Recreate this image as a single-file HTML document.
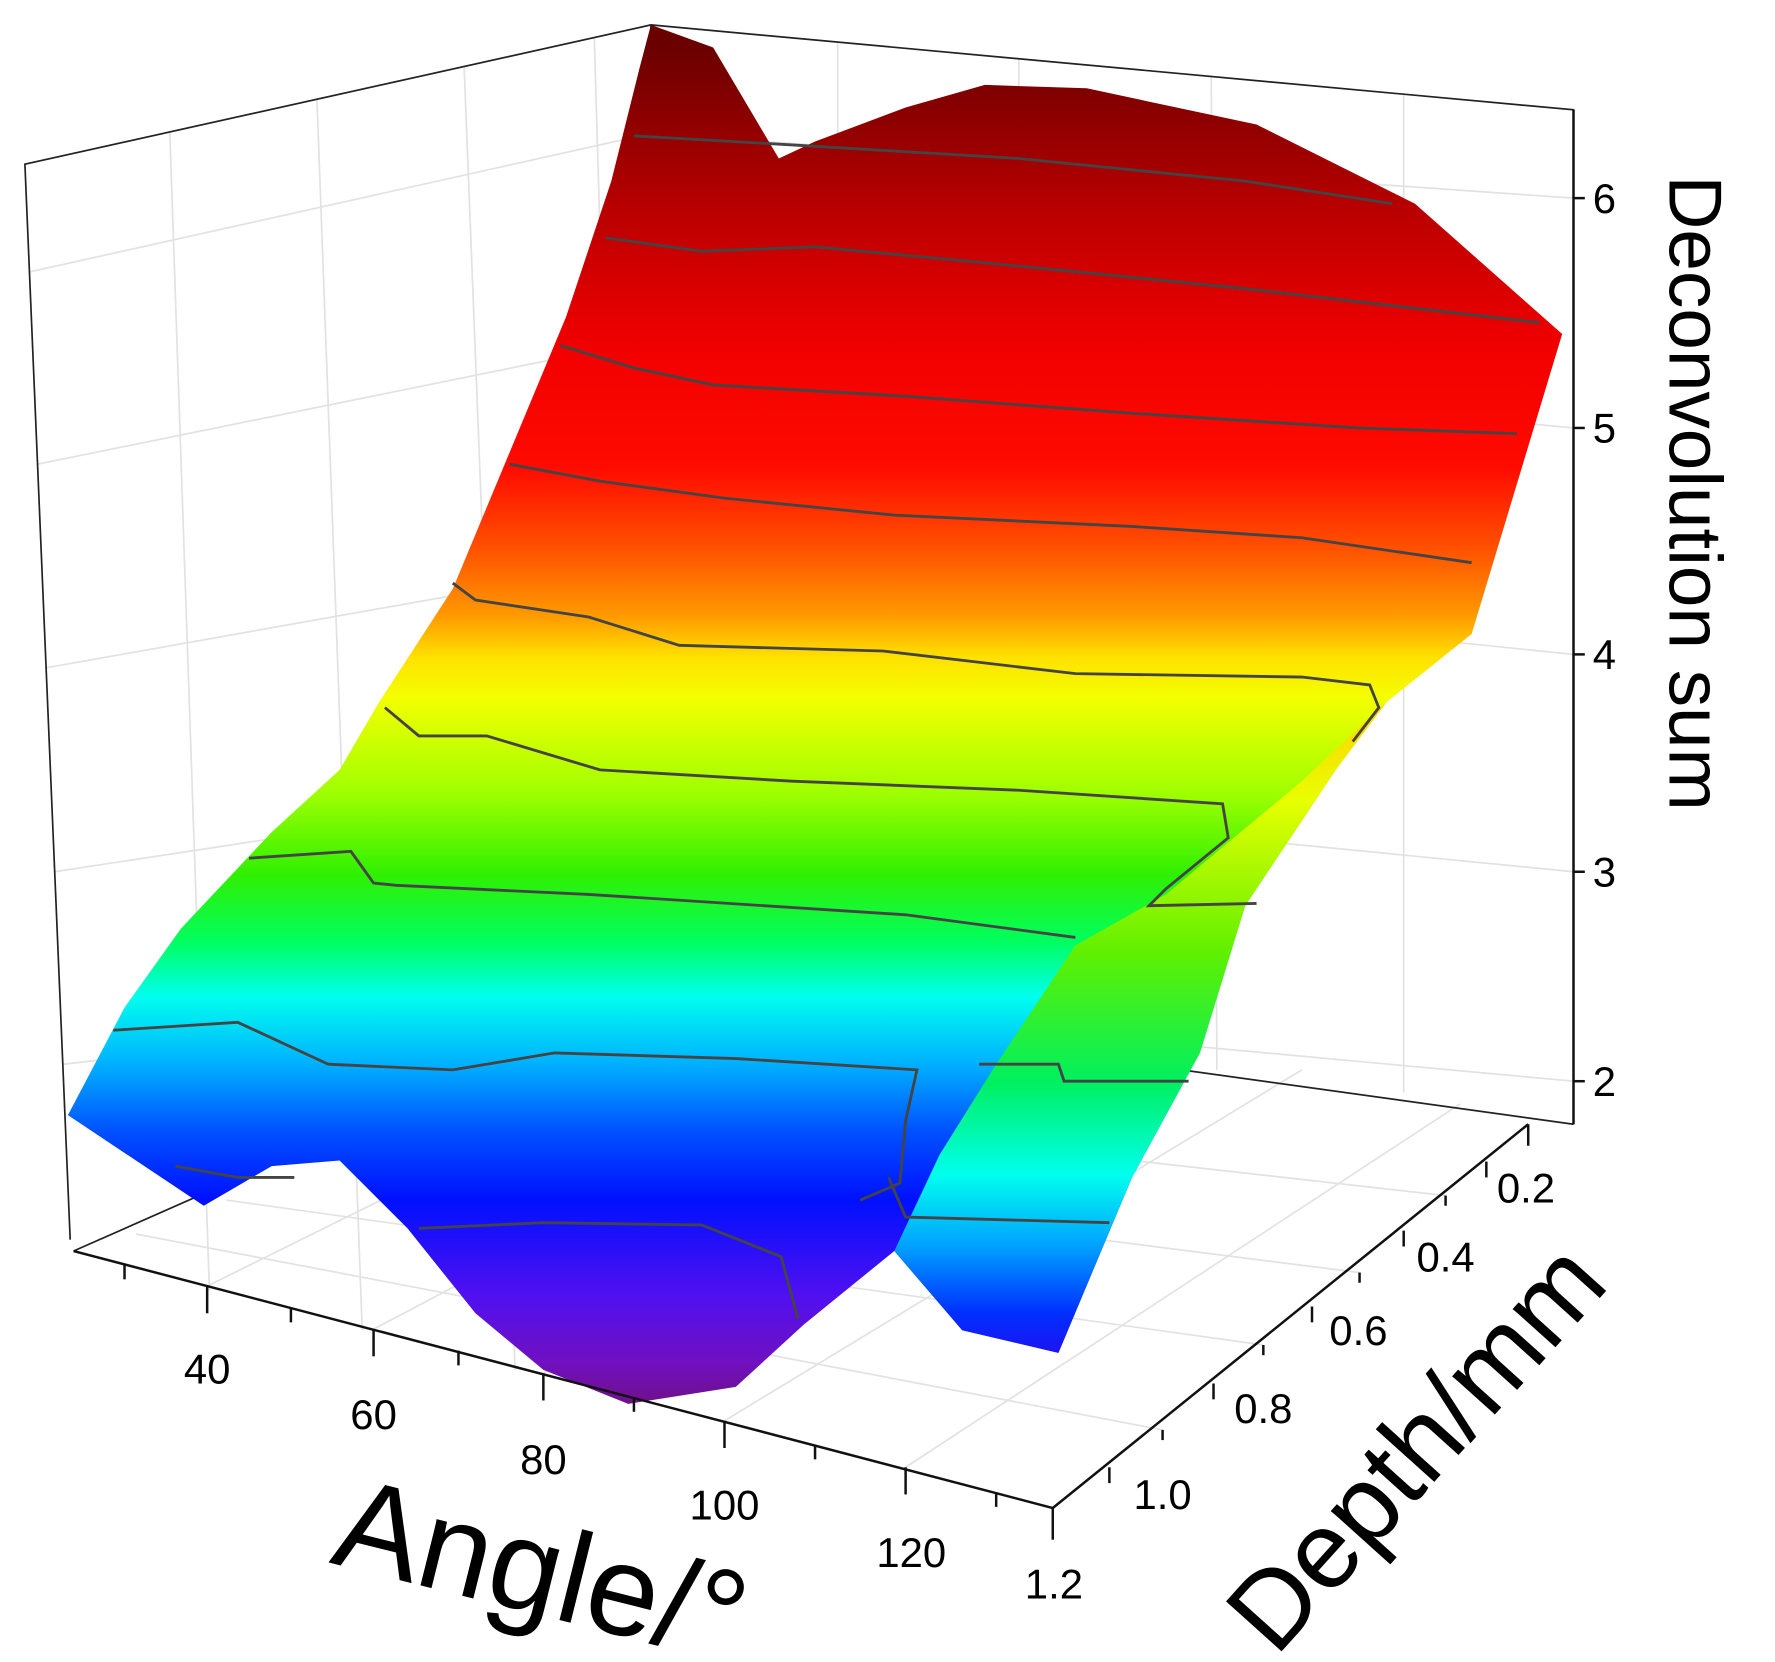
<!DOCTYPE html>
<html><head><meta charset="utf-8"><style>
html,body{margin:0;padding:0;background:#fff;}
svg{display:block;}
text{font-family:"Liberation Sans",Arial,sans-serif;fill:#000;}
</style></head><body>
<svg width="1775" height="1662" viewBox="0 0 1568 1468" preserveAspectRatio="none" xmlns="http://www.w3.org/2000/svg">
<defs>
<linearGradient id="gm" gradientUnits="userSpaceOnUse" x1="0" y1="40" x2="0" y2="1240">
<stop offset="0" stop-color="#6a0000"/>
<stop offset="0.12" stop-color="#b80000"/>
<stop offset="0.22" stop-color="#f00000"/>
<stop offset="0.31" stop-color="#ff0a00"/>
<stop offset="0.37" stop-color="#ff5000"/>
<stop offset="0.42" stop-color="#ff9a00"/>
<stop offset="0.45" stop-color="#ffe000"/>
<stop offset="0.48" stop-color="#f4ff00"/>
<stop offset="0.55" stop-color="#a0ff00"/>
<stop offset="0.61" stop-color="#30f000"/>
<stop offset="0.66" stop-color="#00ff60"/>
<stop offset="0.70" stop-color="#00ffee"/>
<stop offset="0.75" stop-color="#00b0ff"/>
<stop offset="0.80" stop-color="#0050ff"/>
<stop offset="0.85" stop-color="#0010ff"/>
<stop offset="0.92" stop-color="#5010f0"/>
<stop offset="0.97" stop-color="#7010c0"/>
<stop offset="1" stop-color="#70108a"/>
</linearGradient>
<linearGradient id="gl" gradientUnits="userSpaceOnUse" x1="0" y1="620" x2="0" y2="1200">
<stop offset="0" stop-color="#ffd000"/>
<stop offset="0.15" stop-color="#e8ff00"/>
<stop offset="0.38" stop-color="#60f000"/>
<stop offset="0.58" stop-color="#00f060"/>
<stop offset="0.72" stop-color="#00ffee"/>
<stop offset="0.83" stop-color="#00a0ff"/>
<stop offset="0.93" stop-color="#0030ff"/>
<stop offset="1" stop-color="#2010f0"/>
</linearGradient>
</defs>
<g stroke="#e2e2e2" stroke-width="1.5" fill="none">
<line x1="150" y1="117" x2="185" y2="1140"/><line x1="280" y1="88" x2="320" y2="1175"/><line x1="410" y1="59" x2="455" y2="1210"/><line x1="525" y1="33" x2="560" y2="1240"/>
<line x1="27" y1="240" x2="575" y2="118"/><line x1="33" y1="410" x2="575" y2="300"/><line x1="40" y1="590" x2="575" y2="495"/><line x1="48" y1="770" x2="575" y2="690"/><line x1="56" y1="940" x2="575" y2="880"/>
<line x1="740" y1="37" x2="740" y2="900"/><line x1="900" y1="52" x2="900" y2="920"/><line x1="1070" y1="68" x2="1075" y2="945"/><line x1="1240" y1="83" x2="1240" y2="965"/>
<line x1="575" y1="118" x2="1390" y2="175"/><line x1="575" y1="300" x2="1390" y2="378"/><line x1="575" y1="495" x2="1390" y2="578"/><line x1="575" y1="690" x2="1390" y2="770"/><line x1="575" y1="880" x2="1390" y2="955"/>
<line x1="183" y1="1136" x2="700" y2="880"/><line x1="330" y1="1174" x2="850" y2="900"/><line x1="480" y1="1213" x2="1000" y2="920"/><line x1="640" y1="1255" x2="1150" y2="945"/><line x1="800" y1="1296" x2="1290" y2="975"/>
<line x1="1277" y1="1056" x2="420" y2="960"/><line x1="1201" y1="1124" x2="300" y2="1010"/><line x1="1116" y1="1188" x2="200" y2="1060"/><line x1="1027" y1="1263" x2="120" y2="1090"/>
</g>
<g stroke="#222" stroke-width="1.5" fill="none">
<polyline points="62,1095 22,145 575,22 1390,97 1390,993"/>
<line x1="575" y1="22" x2="575" y2="880"/>
<line x1="1390" y1="993" x2="575" y2="880"/>
<line x1="65" y1="1105" x2="575" y2="880"/>
</g>
<polygon fill="url(#gm)" points="575,22 630,42 688,140 720,125 800,95 870,75 960,78 1110,110 1250,180 1380,295 1300,560 1225,620 1180,680 1100,800 1060,930 1000,1040 935,1195 850,1175 790,1105 710,1170 650,1225 555,1240 480,1210 420,1160 360,1085 300,1025 240,1030 180,1065 60,985 110,890 160,820 240,735 300,680 335,620 400,520 450,400 500,280 540,160 565,60"/>
<polygon fill="url(#gl)" points="1225,620 1180,680 1100,800 1060,930 1000,1040 935,1195 850,1175 790,1105 830,1020 880,940 950,835 1030,790 1090,740 1150,690"/>
<g stroke="#444" stroke-width="2.5" fill="none">
<polyline points="560,120 700,128 900,140 1100,160 1230,180"/>
<polyline points="535,210 620,222 720,218 900,235 1100,255 1360,285"/>
<polyline points="495,305 560,325 630,340 800,350 1000,365 1200,378 1340,383"/>
<polyline points="450,410 530,425 640,440 790,455 1000,465 1150,475 1300,497"/>
<polyline points="400,515 420,530 520,545 600,570 780,575 950,595 1150,598 1210,605 1218,625 1195,655"/>
<polyline points="340,625 370,650 430,650 530,680 700,690 900,698 1080,710 1085,740 1030,785 1015,800 1110,798"/>
<polyline points="220,758 310,752 330,780 350,782 520,790 800,808 950,828"/>
<polyline points="100,910 210,903 290,940 400,945 490,930 650,935 810,945 800,990 795,1045 760,1060"/>
<polyline points="865,940 935,940 940,955 1050,955"/>
<polyline points="785,1040 800,1075 980,1080"/>
<polyline points="155,1030 210,1040 260,1040"/>
<polyline points="370,1085 480,1080 620,1082 690,1110 705,1165"/>
</g>
<g stroke="#111" stroke-width="2.2" fill="none">
<line x1="65" y1="1105" x2="930" y2="1332"/>
<line x1="930" y1="1332" x2="1350" y2="993"/>
<line x1="930" y1="1332" x2="930" y2="1360"/>
<line x1="1350" y1="993" x2="1350" y2="1012"/>
<line x1="1390" y1="97" x2="1390" y2="993"/>
<line x1="1390" y1="175" x2="1400" y2="175"/><line x1="1390" y1="378" x2="1400" y2="378"/><line x1="1390" y1="578" x2="1400" y2="578"/><line x1="1390" y1="770" x2="1400" y2="770"/><line x1="1390" y1="955" x2="1400" y2="955"/>
<line x1="183" y1="1136" x2="183" y2="1160"/><line x1="330" y1="1174" x2="330" y2="1198"/><line x1="480" y1="1213" x2="480" y2="1237"/><line x1="640" y1="1255" x2="640" y2="1279"/><line x1="800" y1="1296" x2="800" y2="1320"/>
<line x1="110" y1="1117" x2="110" y2="1130"/><line x1="257" y1="1155" x2="257" y2="1168"/><line x1="405" y1="1193" x2="405" y2="1206"/><line x1="560" y1="1234" x2="560" y2="1247"/><line x1="720" y1="1276" x2="720" y2="1289"/><line x1="880" y1="1318" x2="880" y2="1331"/>
<line x1="1313" y1="1026" x2="1313" y2="1040"/><line x1="1240" y1="1087" x2="1240" y2="1101"/><line x1="1159" y1="1154" x2="1159" y2="1168"/><line x1="1072" y1="1222" x2="1072" y2="1236"/><line x1="980" y1="1296" x2="980" y2="1310"/>
<line x1="1277" y1="1056" x2="1277" y2="1065"/><line x1="1201" y1="1124" x2="1201" y2="1133"/><line x1="1116" y1="1188" x2="1116" y2="1197"/><line x1="1027" y1="1263" x2="1027" y2="1272"/>
</g>
<g font-size="37">
<text x="1407" y="188">6</text><text x="1407" y="391">5</text><text x="1407" y="591">4</text><text x="1407" y="783">3</text><text x="1407" y="968">2</text>
<text x="183" y="1222" text-anchor="middle">40</text><text x="330" y="1262" text-anchor="middle">60</text><text x="480" y="1302" text-anchor="middle">80</text><text x="640" y="1342" text-anchor="middle">100</text><text x="805" y="1384" text-anchor="middle">120</text>
<text x="1348" y="1062" text-anchor="middle">0.2</text><text x="1277" y="1123" text-anchor="middle">0.4</text><text x="1200" y="1188" text-anchor="middle">0.6</text><text x="1116" y="1257" text-anchor="middle">0.8</text><text x="1027" y="1333" text-anchor="middle">1.0</text><text x="931" y="1412" text-anchor="middle">1.2</text>
</g>
<text font-size="66" transform="translate(1475,155) rotate(90)">Deconvolution sum</text>
<text font-size="114" transform="translate(290,1380) rotate(14)">Angle/°</text>
<text font-size="96" text-anchor="middle" transform="translate(1275,1300) rotate(-48)">Depth/mm</text>
</svg>
</body></html>
